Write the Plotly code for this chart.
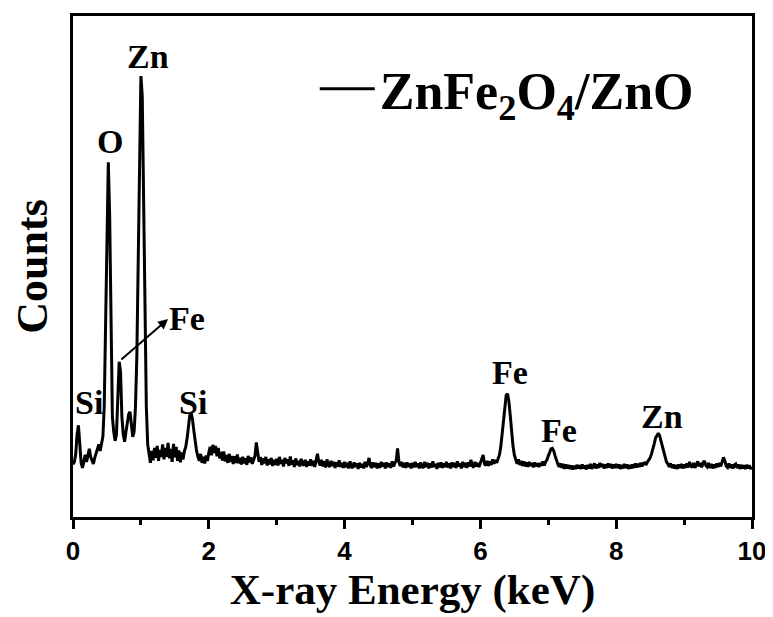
import plotly.graph_objects as go

# EDS spectrum counts, one row per 0.5 keV (channel width 0.02 keV)
counts_0_0 = [10.5, 11.0, 12.5, 16.5, 18.3, 14.0, 10.8, 9.8, 11.2, 12.4, 11.0, 12.8, 13.6, 12.0, 11.3, 10.6, 11.8, 12.9, 13.8, 14.5, 13.2, 14.6, 16.0, 22.0, 38.0]
counts_0_5 = [62.0, 70.8, 60.0, 36.0, 20.0, 17.0, 15.2, 16.5, 24.0, 31.0, 29.0, 20.0, 16.5, 15.0, 17.0, 19.0, 20.5, 21.0, 18.0, 16.0, 17.0, 22.0, 32.0, 54.0, 78.0]
counts_1_0 = [88.0, 84.0, 60.0, 38.0, 22.0, 14.5, 12.2, 10.8, 13.2, 11.3, 13.8, 11.8, 14.2, 11.2, 13.4, 12.0, 14.5, 11.5, 13.8, 12.0, 14.8, 11.7, 13.6, 11.0, 14.6]
counts_1_5 = [11.9, 14.0, 11.2, 13.3, 10.9, 12.9, 11.5, 13.1, 14.0, 15.6, 18.5, 20.3, 20.8, 19.5, 17.2, 15.0, 13.2, 12.0, 11.2, 12.6, 10.8, 12.0, 10.7, 12.3, 11.2]
counts_2_0 = [12.8, 14.0, 12.3, 14.4, 12.8, 14.2, 12.1, 13.8, 11.7, 13.0, 11.3, 13.1, 11.1, 12.4, 10.8, 12.6, 11.0, 12.2, 10.6, 12.1, 10.8, 12.5, 10.7, 11.8, 10.5]
counts_2_5 = [12.0, 10.7, 11.7, 10.4, 12.2, 10.9, 11.9, 10.6, 11.6, 12.2, 14.9, 13.2, 11.0, 12.0, 10.4, 11.7, 10.7, 12.0, 10.3, 11.5, 10.5, 11.8, 10.2, 11.4, 10.4]
counts_3_0 = [11.6, 10.3, 12.0, 10.6, 11.4, 10.1, 11.8, 10.7, 11.5, 10.2, 12.1, 10.5, 11.3, 10.0, 11.7, 10.4, 11.2, 10.1, 11.6, 10.6, 10.3, 11.4, 10.0, 11.1, 10.3]
counts_3_5 = [11.5, 10.2, 11.2, 10.0, 11.8, 12.6, 11.0, 10.3, 11.4, 10.1, 11.1, 9.9, 11.5, 10.4, 10.0, 11.2, 10.2, 11.0, 9.8, 10.9, 10.1, 11.3, 10.0, 10.8, 9.8]
counts_4_0 = [11.0, 9.9, 10.8, 9.7, 11.1, 10.1, 9.8, 10.9, 10.0, 10.7, 9.6, 10.8, 9.9, 10.6, 9.7, 11.0, 10.0, 10.7, 11.8, 10.2, 9.8, 10.9, 10.0, 10.8, 9.7]
counts_4_5 = [10.7, 9.8, 11.0, 10.1, 10.8, 9.7, 10.9, 10.0, 10.7, 9.8, 11.1, 10.1, 10.8, 11.2, 13.7, 11.0, 10.2, 11.0, 9.9, 10.8, 9.8, 10.9, 10.0, 10.7, 9.7]
counts_5_0 = [10.8, 9.9, 11.0, 10.0, 10.7, 9.7, 10.9, 10.1, 9.8, 11.0, 10.0, 10.8, 9.7, 10.7, 9.9, 11.1, 10.0, 10.6, 9.6, 10.8, 9.9, 10.9, 9.8, 10.7, 10.0]
counts_5_5 = [11.0, 9.9, 10.7, 9.7, 10.9, 10.0, 10.8, 9.8, 11.1, 10.1, 10.7, 9.7, 11.0, 10.0, 10.8, 9.8, 10.9, 10.1, 11.4, 10.2, 9.9, 11.0, 10.1, 10.8, 10.0]
counts_6_0 = [11.1, 11.6, 12.4, 10.6, 10.3, 11.2, 10.2, 11.1, 10.4, 11.5, 10.6, 11.4, 10.8, 11.6, 12.4, 14.0, 16.8, 20.0, 22.8, 24.3, 24.6, 23.0, 20.2, 17.0, 14.2]
counts_6_5 = [12.4, 11.4, 10.6, 11.5, 10.4, 11.2, 10.2, 11.1, 10.1, 10.9, 10.0, 11.0, 10.2, 10.8, 9.9, 10.9, 10.1, 10.7, 10.0, 10.8, 10.2, 11.1, 10.3, 11.0, 11.4]
counts_7_0 = [12.2, 13.0, 13.6, 13.7, 13.2, 12.2, 11.2, 10.6, 10.0, 10.7, 9.8, 10.6, 9.6, 10.5, 9.7, 10.4, 9.6, 10.3, 9.5, 10.2, 9.6, 10.4, 9.7, 10.3, 9.6]
counts_7_5 = [10.5, 9.7, 10.3, 9.5, 10.4, 9.7, 10.6, 9.6, 10.3, 10.7, 9.7, 10.5, 9.8, 10.8, 10.0, 10.6, 9.7, 10.5, 9.8, 10.7, 9.9, 10.6, 9.7, 10.5, 9.8]
counts_8_0 = [10.6, 9.8, 10.5, 9.6, 10.4, 9.7, 10.6, 9.8, 10.5, 9.6, 10.4, 9.7, 10.5, 9.8, 10.7, 9.9, 10.6, 10.0, 10.8, 10.1, 10.7, 10.8, 10.4, 11.0, 11.3]
counts_8_5 = [11.8, 12.6, 13.4, 14.6, 15.8, 16.4, 16.7, 16.2, 15.2, 14.0, 12.8, 11.8, 11.0, 10.6, 10.0, 10.7, 9.8, 10.5, 9.7, 10.4, 9.6, 10.5, 9.8, 10.6, 9.7]
counts_9_0 = [10.5, 9.8, 10.7, 9.9, 11.0, 10.2, 9.9, 10.8, 9.8, 10.6, 11.1, 10.1, 10.8, 9.9, 10.9, 11.2, 10.3, 10.0, 10.8, 9.8, 10.6, 9.7, 10.5, 9.8, 10.7]
counts_9_5 = [10.0, 10.8, 10.1, 11.0, 11.9, 11.2, 10.2, 9.9, 10.7, 9.8, 10.5, 9.7, 10.4, 10.6, 9.8, 10.5, 9.6, 10.4, 9.7, 10.3, 9.6, 10.4, 9.7, 10.3, 9.6]
counts_10_0 = [10.0]

counts = (counts_0_0 + counts_0_5 + counts_1_0 + counts_1_5 + counts_2_0 + counts_2_5
          + counts_3_0 + counts_3_5 + counts_4_0 + counts_4_5 + counts_5_0 + counts_5_5
          + counts_6_0 + counts_6_5 + counts_7_0 + counts_7_5 + counts_8_0 + counts_8_5
          + counts_9_0 + counts_9_5 + counts_10_0)

CHANNEL_WIDTH_KEV = 0.02
energy_kev = [round(i * CHANNEL_WIDTH_KEV, 2) for i in range(len(counts))]

# Peak labels (element, energy keV, label height in counts)
peak_labels = ["Zn", "O", "Fe", "Si", "Si", "Fe", "Fe", "Zn"]
peak_label_x = [1.10, 0.54, 1.68, 0.24, 1.77, 6.44, 7.16, 8.67]
peak_label_y = [92.0, 75.0, 39.7, 22.8, 22.8, 28.8, 17.3, 20.0]

x_tick_vals = [0, 2, 4, 6, 8, 10]
x_tick_text = ["0", "2", "4", "6", "8", "10"]

series_name = "ZnFe<sub>2</sub>O<sub>4</sub>/ZnO"

serif = "Liberation Serif, Times New Roman, serif"
sans = "Liberation Sans, Arial, sans-serif"

fig = go.Figure()
fig.add_trace(go.Scatter(
    x=energy_kev, y=counts, mode="lines", name=series_name,
    line=dict(color="black", width=3),
))

annotations = []
for t, x, y in zip(peak_labels, peak_label_x, peak_label_y):
    annotations.append(dict(
        x=x, y=y, xref="x", yref="y", text=t, showarrow=False,
        font=dict(family=serif, size=34, color="black", weight="bold"),
        xanchor="center", yanchor="middle",
    ))
# arrow from the small Fe L peak to its label
annotations.append(dict(
    x=1.40, y=39.5, xref="x", yref="y", ax=0.69, ay=31.2, axref="x", ayref="y",
    text="", showarrow=True, arrowhead=2, arrowsize=1, arrowwidth=2, arrowcolor="black",
))

# page body adds an 8 px margin; figure sized to fit the window
fig.update_layout(
    width=765, height=609,
    margin=dict(l=65, r=21, t=5, b=100),
    paper_bgcolor="white", plot_bgcolor="white",
    showlegend=True,
    legend=dict(
        x=0.356, y=0.935, xanchor="left", yanchor="top",
        bgcolor="rgba(0,0,0,0)", borderwidth=0, itemwidth=55,
        font=dict(family=serif, size=52, color="black", weight="bold"),
    ),
    annotations=annotations,
    xaxis=dict(
        range=[0, 10], tickvals=x_tick_vals, ticktext=x_tick_text,
        showline=True, mirror=True, linecolor="black", linewidth=2.5,
        ticks="outside", ticklen=9, tickwidth=2.5, tickcolor="black",
        minor=dict(ticks="outside", ticklen=5, tickwidth=2.5, tickcolor="black", dtick=1, showgrid=False),
        showgrid=False, zeroline=False,
        tickfont=dict(family=sans, size=26, color="black", weight="bold"),
        title=dict(text="X-ray Energy (keV)", standoff=4,
                   font=dict(family=serif, size=43, color="black", weight="bold")),
    ),
    yaxis=dict(
        range=[0, 100], showticklabels=False, ticks="",
        showline=True, mirror=True, linecolor="black", linewidth=2.5,
        showgrid=False, zeroline=False,
        title=dict(text="Counts", standoff=12,
                   font=dict(family=serif, size=44, color="black", weight="bold")),
    ),
)

fig.write_html("out.html")
